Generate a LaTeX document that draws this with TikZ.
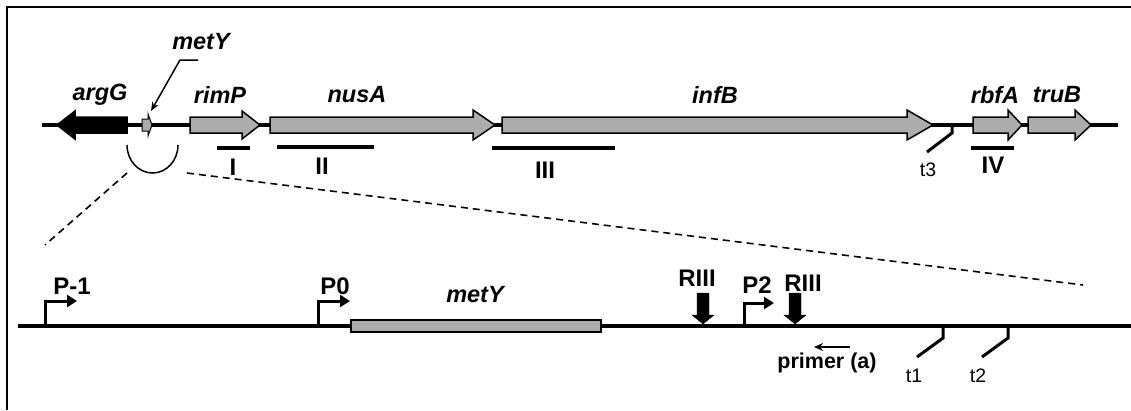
\documentclass[tikz,border=0pt]{standalone}
\usepackage{fontspec}
\setmainfont{Liberation Sans}
\usetikzlibrary{arrows.meta}

\begin{document}
\begin{tikzpicture}[x=1pt, y=-1pt,
            gene/.style={draw, line width=1.5pt, fill=gray!65, line join=miter},
            dna/.style={line width=3.5pt},
            bar/.style={line width=4pt},
            term/.style={line width=3pt},
            prom/.style={line width=3pt, -{Triangle[length=10pt,width=12pt]}},
            cut/.style={fill=black},
            zoomline/.style={line width=1.6pt, dash pattern=on 7pt off 5pt},
            gname/.style={inner sep=0pt, font=\fontsize{23.5}{27}\selectfont\bfseries\itshape},
            lbl/.style={inner sep=0pt, font=\fontsize{24}{28}\selectfont\bfseries},
            small/.style={inner sep=0pt, font=\fontsize{19.5}{23}\selectfont}]
        \useasboundingbox (0,0) rectangle (1131,410);
        \draw[line width=2pt] (7,410) -- (7,7) -- (1131,7);

        % operon
        \draw[dna] (42,125) -- (1118,125);
        \draw[gene, fill=black] (127,117) -- (75,117) -- (75,111) -- (57,125) -- (75,139) -- (75,133) -- (127,133) -- cycle;
        \draw[gene, line width=1pt] (142,119) -- (148,119) -- (148,114) -- (152,125) -- (148,136) -- (148,131) -- (142,131) -- cycle;
        \draw[gene] (190,117) -- (242,117) -- (242,111) -- (260,125) -- (242,139) -- (242,133) -- (190,133) -- cycle;
        \draw[gene] (270,117) -- (473,117) -- (473,110) -- (495,125) -- (473,140) -- (473,133) -- (270,133) -- cycle;
        \draw[gene] (502,117) -- (907,117) -- (907,110) -- (933,125) -- (907,140) -- (907,133) -- (502,133) -- cycle;
        \draw[gene] (973,117) -- (1008,117) -- (1008,110) -- (1022,125) -- (1008,140) -- (1008,133) -- (973,133) -- cycle;
        \draw[gene] (1028,117) -- (1075,117) -- (1075,110) -- (1091,125) -- (1075,140) -- (1075,133) -- (1028,133) -- cycle;

        \node[gname] (argG) at (100,95) {argG};
        \node[gname] (metYtop) at (201,42) {metY};
        \node[gname] (rimP) at (220,95) {rimP};
        \node[gname] (nusA) at (357,95) {nusA};
        \node[gname] (infB) at (715,95) {infB};
        \node[gname] (rbfA) at (995,95) {rbfA};
        \node[gname] (truB) at (1057,95) {truB};

        \coordinate (ptr) at (198,60);
        \coordinate (metYgene) at (151,111);
        \draw[line width=1.5pt, -{Stealth[length=9pt,width=7pt]}] (ptr) -- (180,60) -- (metYgene);

        \draw[bar] (217,148) -- (250,148);
        \draw[bar] (277,147) -- (374,147);
        \draw[bar] (492,148) -- (615,148);
        \draw[bar] (971,148) -- (1014,148);
        \node[lbl] (I) at (233,167) {I};
        \node[lbl] (II) at (322,166) {II};
        \node[lbl] (III) at (545,170) {III};
        \node[lbl] (IV) at (993,165) {IV};

        \draw[term] (952,125) -- (952,133) -- (927,152);
        \node[small] (t3) at (928,170) {t3};

        % zoom into the metY region
        \draw[line width=1.5pt] (127,145) arc[start angle=180, end angle=0, x radius=25.5, y radius=28];
        \draw[zoomline] (127,173) -- (45,245);
        \draw[zoomline] (187,173) -- (1083,285);

        % metY region
        \draw[dna] (18,326) -- (1131,326);
        \draw[gene] (351,320) rectangle (601,332);
        \node[gname] (metY) at (475,295) {metY};

        \draw[prom] (45,326) -- (45,301) -- (77,301);
        \draw[prom] (318,326) -- (318,301) -- (350,301);
        \draw[prom] (744,326) -- (744,303) -- (774,303);
        \node[lbl] (P-1) at (72,286) {P-1};
        \node[lbl] (P0) at (335,286) {P0};
        \node[lbl] (P2) at (757,285) {P2};

        \draw[cut] (697,293) rectangle (709,315) (692,315) -- (714,315) -- (703,324) -- cycle;
        \draw[cut] (789,293) rectangle (801,315) (784,315) -- (806,315) -- (795,324) -- cycle;
        \node[lbl] (RIII1) at (697,278) {RIII};
        \node[lbl] (RIII2) at (803,283) {RIII};

        \node[lbl, font=\fontsize{21.5}{25}\selectfont\bfseries] (primer) at (827,363) {primer (a)};
        \draw[line width=1.5pt, -{Stealth[length=9pt,width=8pt]}] (850,347) -- (814,347);

        \draw[term] (943,326) -- (943,338) -- (917,357);
        \draw[term] (1008,326) -- (1008,338) -- (982,357);
        \node[small] (t1) at (914,376) {t1};
        \node[small] (t2) at (978,376) {t2};
\end{tikzpicture}
\end{document}
